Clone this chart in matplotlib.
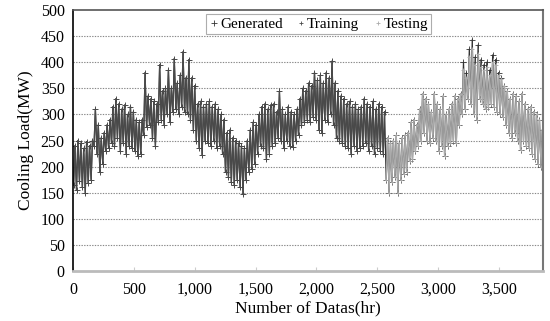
import matplotlib.pyplot as plt
import numpy as np

plt.rcParams['font.family'] = ['Liberation Serif', 'DejaVu Serif']

# daily peak / trough of the generated cooling load (MW), one entry per day (24 hr)
gen_high = [240, 250, 245, 235, 248, 240, 250, 310, 280, 255,
            265, 280, 290, 315, 330, 320, 310, 318, 300, 315,
            305, 290, 285, 290, 380, 335, 330, 325, 320, 395,
            345, 350, 385, 350, 407, 360, 375, 420, 370, 405,
            370, 355, 320, 325, 315, 320, 325, 315, 320, 310,
            300, 290, 265, 270, 255, 250, 245, 240, 235, 250,
            270, 285, 280, 300, 315, 320, 310, 318, 320, 305,
            344, 310, 300, 315, 305, 300, 310, 330, 350, 345,
            360, 355, 380, 365, 375, 360, 380, 370, 402, 360,
            345, 335, 330, 320, 325, 315, 320, 310, 315, 330,
            320, 315, 325, 310, 320, 315, 305, 255, 245, 250,
            260, 245, 255, 260, 265, 285, 290, 280, 310, 340,
            330, 320, 305, 340, 320, 310, 335, 300, 310, 320,
            335, 330, 340, 400, 380, 425, 443, 410, 433, 405,
            395, 400, 385, 414, 405, 380, 370, 355, 345, 330,
            340, 335, 325, 340, 320, 310, 315, 305, 300, 290,
            270]
gen_low = [165, 155, 172, 160, 150, 168, 175, 240, 225, 190,
           205, 230, 235, 245, 240, 255, 230, 245, 225, 240,
           235, 230, 220, 225, 260, 275, 280, 255, 240, 285,
           290, 280, 300, 285, 305, 310, 300, 315, 305, 300,
           290, 270, 250, 235, 222, 250, 245, 240, 250, 235,
           240, 225, 190, 180, 170, 165, 175, 160, 147, 175,
           190, 195, 205, 225, 240, 235, 215, 225, 240, 245,
           255, 250, 235, 250, 240, 238, 250, 260, 280, 285,
           290, 285, 295, 290, 270, 265, 290, 285, 300, 280,
           255, 250, 245, 240, 235, 225, 240, 230, 235, 240,
           245, 230, 240, 225, 235, 230, 225, 175, 150, 170,
           180, 150, 175, 185, 190, 210, 215, 230, 240, 250,
           265, 250, 245, 255, 250, 230, 240, 220, 240, 245,
           250, 245, 280, 300, 310, 330, 320, 300, 290, 330,
           320, 310, 315, 320, 315, 305, 300, 295, 280, 265,
           255, 265, 250, 232, 250, 240, 235, 225, 215, 205,
           200]

n_train_days = 107
train_high = gen_high[:n_train_days]
train_low = gen_low[:n_train_days]

# measured testing data (lighter series), days 107-160
test_high = [255, 245, 250, 260, 245, 255, 260, 265, 285, 290,
             280, 310, 340, 330, 320, 305, 340, 320, 310, 335,
             300, 310, 320, 335, 330, 340, 385, 370, 410, 425,
             395, 415, 390, 385, 390, 375, 400, 395, 375, 368,
             355, 345, 330, 340, 335, 325, 340, 320, 310, 315,
             305, 300, 290, 270]
test_low = [175, 150, 170, 180, 150, 175, 185, 190, 210, 215,
            230, 240, 250, 265, 250, 245, 255, 250, 230, 240,
            220, 240, 245, 250, 245, 280, 300, 310, 330, 320,
            300, 290, 330, 320, 310, 315, 320, 315, 305, 300,
            295, 280, 265, 255, 265, 250, 232, 250, 240, 235,
            225, 215, 205, 200]


def zigzag(highs, lows, first_day):
    hrs, vals = [], []
    for i, (h, l) in enumerate(zip(highs, lows)):
        d = (first_day + i) * 24
        hrs += [d + 5, d + 16]
        vals += [l, h]
    return hrs, vals


gx, gy = zigzag(gen_high, gen_low, 0)
tx, ty = zigzag(train_high, train_low, 0)
sx, sy = zigzag(test_high, test_low, n_train_days)

fig = plt.figure(figsize=(5.5, 3.21), dpi=100)
ax = fig.add_axes([0.1327, 0.1558, 0.8543, 0.813])

ax.plot(gx, gy, color='#333333', lw=0.9, marker='+', ms=4, mew=0.6, label='Generated')
ax.plot(tx, ty, color='#4a4a4a', lw=0.9, marker='+', ms=3, mew=0.6, label='Training')
ax.plot(sx, sy, color='#ababab', lw=0.9, marker='+', ms=3.5, mew=0.6, label='Testing')

ax.set_xlim(0, 3860)
ax.set_ylim(0, 500)
ax.set_yticks(range(0, 501, 50))
ax.set_xticks(range(0, 3501, 500))
ax.set_xticklabels(['0', '500', '1,000', '1,500', '2,000', '2,500', '3,000', '3,500'])
for y in range(50, 500, 50):
    ax.axhline(y, color='#888888', lw=0.8, ls=(0, (1.2, 1.2)), zorder=0)

ax.tick_params(axis='both', labelsize=11.5, length=0, pad=6)
ax.tick_params(axis='x', direction='in', length=3, color='#cccccc', pad=8)
ax.spines['left'].set_color('black')
ax.spines['left'].set_linewidth(1.2)
ax.spines['bottom'].set_color('#bbbbbb')
ax.spines['bottom'].set_linewidth(2)
ax.spines['top'].set_color('#555555')
ax.spines['top'].set_linewidth(1.2)
ax.spines['right'].set_color('#777777')
ax.spines['right'].set_linewidth(1.5)

ax.set_xlabel('Number of Datas(hr)', fontsize=12.5, labelpad=2)
ax.set_ylabel('Cooling Load(MW)', fontsize=12.5, labelpad=5)

leg = ax.legend(loc='upper center', bbox_to_anchor=(0.523, 0.995), ncol=3, fontsize=11,
                frameon=True, fancybox=False, handlelength=0.6, handletextpad=0.1,
                columnspacing=0.9, borderpad=0.2, borderaxespad=0.2)
leg.get_frame().set_edgecolor('#999999')
leg.get_frame().set_linewidth(0.8)
for h in leg.get_lines():
    h.set_linestyle('')

fig.savefig('out.png', dpi=100)
